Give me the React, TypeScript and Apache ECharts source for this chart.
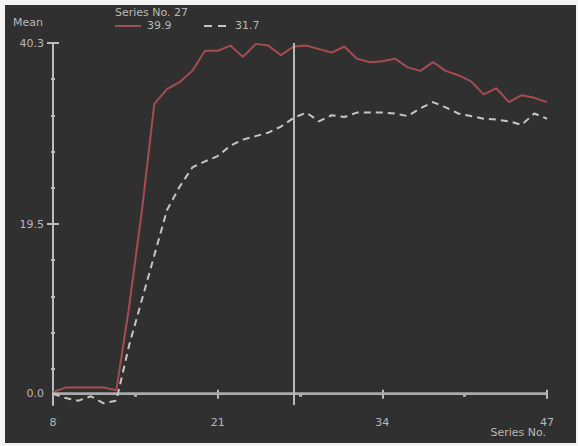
import React, { useEffect, useRef } from "react";
import * as echarts from "echarts";

const seriesNo = [8, 9, 10, 11, 12, 13, 14, 15, 16, 17, 18, 19, 20, 21, 22, 23, 24, 25, 26, 27, 28, 29, 30, 31, 32, 33, 34, 35, 36, 37, 38, 39, 40, 41, 42, 43, 44, 45, 46, 47];
const meanA = [0.2, 0.7, 0.7, 0.7, 0.7, 0.4, 9.9, 20.8, 33.3, 35.0, 35.8, 37.1, 39.4, 39.4, 40.0, 38.7, 40.2, 40.0, 38.9, 39.9, 40.0, 39.6, 39.2, 39.9, 38.5, 38.1, 38.2, 38.5, 37.5, 37.1, 38.1, 37.1, 36.6, 35.9, 34.4, 35.1, 33.5, 34.3, 34.0, 33.5];
const meanB = [0.0, -0.5, -0.8, -0.3, -1.1, -0.8, 5.5, 10.7, 15.9, 21.1, 23.8, 26.0, 26.7, 27.3, 28.5, 29.2, 29.6, 30.0, 30.7, 31.7, 32.3, 31.3, 32.0, 31.8, 32.3, 32.3, 32.3, 32.2, 31.9, 32.8, 33.5, 32.9, 32.2, 31.9, 31.6, 31.5, 31.3, 30.9, 32.2, 31.6];
const cursorNo = 27;
const xMajorTicks = [8, 21, 34, 47];
const xMinorTicks = [14.5, 27.5, 40.5];
const yMin = -1.3;
const yMax = 40.3;
const yLabels = [0, 19.5, 40.3];
const yMajorTicks = [19.5, 40.3];
const yMinorTicks = [2.86, 7.02, 11.18, 15.34, 23.66, 27.82, 31.98, 36.14];

const TXT = "#b8b8b8";
const AX = "#bcbcbc";
const RED = "#a54c52";
const DASH = "#c6c6c6";
const FONT = "DejaVu Sans, sans-serif";

export default function App() {
  const ref = useRef<HTMLDivElement>(null);
  useEffect(() => {
    document.body.style.margin = "0";
    const chart = echarts.init(ref.current!, null, { renderer: "svg" });
    const idx = seriesNo.indexOf(cursorNo);
    const dataA = seriesNo.map((x, i) => [x, meanA[i]]);
    const dataB = seriesNo.map((x, i) => [x, meanB[i]]);
    const baseX = { type: "value", min: seriesNo[0], max: seriesNo[seriesNo.length - 1], position: "bottom", splitLine: { show: false } };
    const baseY = { type: "value", min: yMin, max: yMax, position: "left", splitLine: { show: false } };
    chart.setOption({
      animation: false,
      backgroundColor: "transparent",
      grid: { left: 53, right: 31, top: 43, bottom: 41 },
      xAxis: [
        {
          ...baseX,
          axisLine: { show: true, lineStyle: { color: AX, width: 2 } },
          axisTick: { show: true, customValues: xMajorTicks, length: 5, lineStyle: { color: AX, width: 2 } },
          axisLabel: { show: true, customValues: xMajorTicks, margin: 12, color: TXT, fontSize: 11, fontFamily: FONT },
        },
        {
          ...baseX,
          axisLine: { show: false },
          axisTick: { show: true, inside: true, customValues: xMajorTicks, length: 4, lineStyle: { color: AX, width: 2 } },
          axisLabel: { show: false },
        },
        {
          ...baseX,
          axisLine: { show: false },
          axisTick: { show: true, customValues: xMinorTicks, length: 3, lineStyle: { color: AX, width: 3 } },
          axisLabel: { show: false },
        },
      ],
      yAxis: [
        {
          ...baseY,
          axisLine: { show: true, lineStyle: { color: AX, width: 2 } },
          axisTick: { show: true, customValues: yMajorTicks, length: 6, lineStyle: { color: AX, width: 2 } },
          axisLabel: {
            show: true,
            customValues: yLabels,
            margin: 9,
            color: TXT,
            fontSize: 11,
            fontFamily: FONT,
            formatter: (v: number) => v.toFixed(1),
          },
        },
        {
          ...baseY,
          axisLine: { show: false },
          axisTick: { show: true, inside: true, customValues: yMajorTicks, length: 6, lineStyle: { color: AX, width: 2 } },
          axisLabel: { show: false },
        },
        {
          ...baseY,
          axisLine: { show: false },
          axisTick: { show: true, customValues: yMinorTicks, length: 2, lineStyle: { color: AX, width: 2 } },
          axisLabel: { show: false },
        },
        {
          ...baseY,
          axisLine: { show: false },
          axisTick: { show: true, inside: true, customValues: yMinorTicks, length: 2, lineStyle: { color: AX, width: 2 } },
          axisLabel: { show: false },
        },
      ],
      graphic: [
        { type: "text", left: 13, top: 17, style: { text: "Mean", fill: TXT, font: `11px ${FONT}` } },
        { type: "text", left: 115, top: 7, style: { text: `Series No. ${cursorNo}`, fill: TXT, font: `11px ${FONT}` } },
        { type: "line", shape: { x1: 115, y1: 26, x2: 141, y2: 26 }, style: { stroke: RED, lineWidth: 2 } },
        { type: "text", left: 147, top: 20, style: { text: meanA[idx].toFixed(1), fill: TXT, font: `11px ${FONT}` } },
        { type: "line", shape: { x1: 204, y1: 26, x2: 227, y2: 26 }, style: { stroke: DASH, lineWidth: 2, lineDash: [8, 6] } },
        { type: "text", left: 235, top: 20, style: { text: meanB[idx].toFixed(1), fill: TXT, font: `11px ${FONT}` } },
        { type: "text", right: 32, top: 427, style: { text: "Series No.", fill: TXT, font: `11px ${FONT}` } },
      ],
      series: [
        {
          type: "line",
          data: dataA,
          symbol: "none",
          lineStyle: { color: RED, width: 2 },
          z: 4,
          markLine: {
            silent: true,
            symbol: "none",
            label: { show: false },
            data: [
              { yAxis: 0, lineStyle: { color: "#a9a9a9", width: 2.5, type: "solid" } },
              { xAxis: cursorNo, lineStyle: { color: "#b8b8b8", width: 2, type: "solid" } },
            ],
          },
        },
        {
          type: "line",
          data: dataB,
          symbol: "none",
          lineStyle: { color: DASH, width: 2, type: [7, 5] },
          z: 5,
        },
      ],
    });
    return () => chart.dispose();
  }, []);
  return (
    <div style={{ position: "relative", width: 578, height: 446, background: "#f4f4f4" }}>
      <div style={{ position: "absolute", left: 5, top: 5, width: 571, height: 438, background: "#303030" }} />
      <div ref={ref} style={{ position: "absolute", left: 0, top: 0, width: 578, height: 446 }} />
    </div>
  );
}
